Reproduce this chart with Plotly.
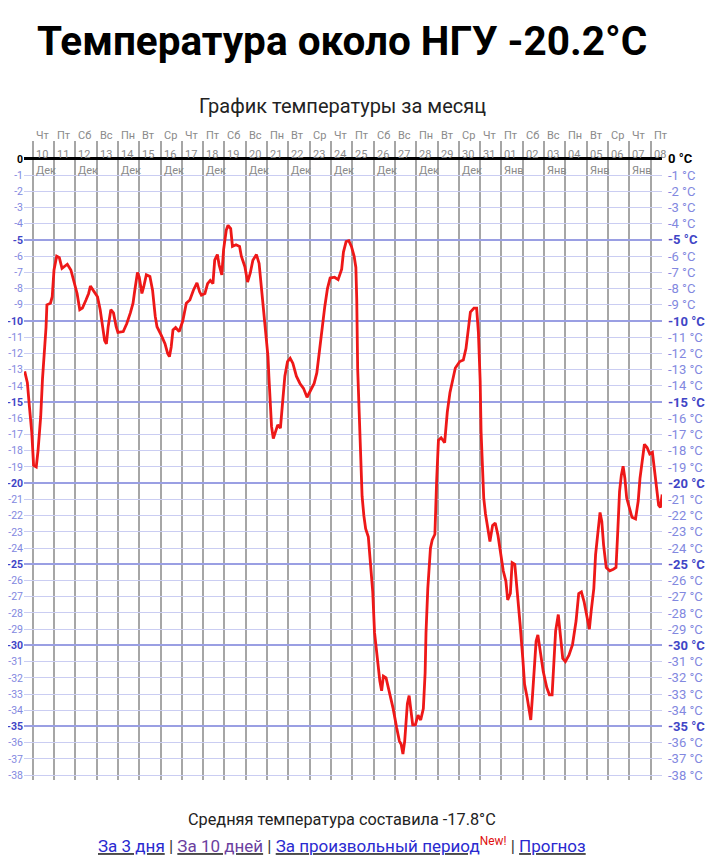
import pandas as pd
import plotly.graph_objects as go

title_text = "Температура около НГУ -20.2°C"
subtitle_text = "График температуры за месяц"
avg_text = "Средняя температура составила -17.8°C"

start_date = "2020-12-10"
day_names = ["Чт", "Пт", "Сб", "Вс", "Пн", "Вт", "Ср"] * 4 + ["Чт", "Пт"]
day_numbers = ["10", "11", "12", "13", "14", "15", "16", "17", "18", "19", "20",
               "21", "22", "23", "24", "25", "26", "27", "28", "29", "30", "31",
               "01", "02", "03", "04", "05", "06", "07", "08"]
month_labels = ["Дек", "", "Дек", "", "Дек", "", "Дек", "", "Дек", "", "Дек",
                "", "Дек", "", "Дек", "", "Дек", "", "Дек", "", "Дек", "",
                "Янв", "", "Янв", "", "Янв", "", "Янв", ""]

# hours since 10 Dec 00:00 and temperature (°C)
hours = [-9, -6, -4, -1, 1, 4, 6, 9, 11, 13, 15, 16, 20, 22, 24, 27, 30, 33, 36, 39,
         43, 46, 50, 53, 56, 60, 63, 65, 69, 73, 76, 79, 81, 83, 85, 88, 91, 94, 96, 102,
         106, 110, 113, 115, 118, 120, 123, 125, 128, 132, 135, 138, 140, 145, 149, 152, 154, 156, 158, 161,
         165, 169, 173, 177, 181, 185, 188, 190, 194, 197, 200, 203, 205, 208, 210, 213, 215, 218, 220, 223,
         225, 229, 233, 235, 239, 242, 245, 248, 252, 255, 258, 260, 263, 265, 266, 268, 269, 271, 274, 276,
         279, 281, 284, 287, 290, 293, 297, 301, 305, 309, 313, 317, 320, 323, 326, 329, 332, 335, 340, 344,
         348, 350, 353, 356, 359, 362, 364, 365, 366, 368, 370, 371, 373, 375, 378, 380, 383, 385, 388, 391,
         393, 395, 398, 402, 406, 410, 413, 415, 417, 419, 422, 424, 426, 428, 431, 434, 437, 440, 442, 443,
         445, 448, 450, 453, 455, 457, 460, 464, 467, 470, 473, 476, 481, 485, 488, 490, 493, 497, 500, 502,
         504, 505, 507, 508, 510, 513, 515, 518, 521, 524, 527, 530, 533, 535, 538, 540, 543, 546, 549, 552,
         554, 557, 559, 561, 563, 565, 567, 569, 572, 575, 579, 582, 585, 587, 589, 592, 594, 597, 600, 604,
         608, 612, 615, 618, 621, 624, 627, 629, 632, 634, 637, 639, 641, 643, 646, 650, 654, 657, 659, 661,
         663, 665, 667, 669, 672, 675, 679, 682, 684, 687, 689, 692, 695, 698, 700, 703, 705, 707, 709]
temps = [-13.1, -13.8, -15.1, -16.9, -18.9, -19.0, -18.0, -15.9, -13.6, -12.2, -10.4, -9.0, -8.9, -8.5, -6.85, -6.0, -6.1, -6.75, -6.65, -6.5,
         -6.85, -7.5, -8.3, -9.3, -9.2, -8.7, -8.3, -7.85, -8.2, -8.5, -9.3, -10.35, -11.2, -11.4, -10.35, -9.3, -9.5, -10.35, -10.7, -10.65,
         -10.15, -9.5, -8.9, -8.1, -7.0, -7.3, -8.3, -7.9, -7.15, -7.25, -8.1, -9.7, -10.35, -10.9, -11.4, -12.0, -12.2, -11.6, -10.55, -10.4,
         -10.65, -10.0, -8.9, -8.7, -8.1, -7.65, -8.2, -8.4, -8.3, -7.7, -7.5, -7.7, -6.25, -5.9, -6.55, -7.15, -5.6, -4.4, -4.1, -4.3,
         -5.4, -5.3, -5.4, -6.0, -6.65, -7.6, -7.05, -6.25, -5.9, -6.45, -8.1, -9.5, -11.0, -12.2, -13.4, -15.1, -16.5, -17.25, -16.7, -16.4,
         -16.6, -15.1, -13.4, -12.5, -12.3, -12.6, -13.4, -13.85, -14.15, -14.7, -14.25, -13.85, -13.2, -11.8, -10.15, -9.1, -8.0, -7.35, -7.3, -7.45,
         -6.8, -5.75, -5.1, -5.05, -5.4, -6.0, -6.7, -8.7, -12.9, -16.4, -18.8, -20.8, -22.0, -22.8, -23.3, -24.75, -26.7, -29.2, -30.9, -32.2,
         -32.8, -31.9, -32.0, -32.9, -33.9, -35.1, -35.9, -36.1, -36.7, -35.9, -33.6, -33.1, -34.1, -34.9, -34.9, -34.3, -34.6, -33.9, -31.7, -29.2,
         -26.5, -24.0, -23.5, -23.15, -19.8, -17.35, -17.2, -17.5, -15.6, -14.4, -13.65, -12.9, -12.5, -12.4, -11.7, -10.7, -9.45, -9.2, -9.2, -10.7,
         -13.7, -16.8, -19.2, -20.9, -21.9, -23.1, -23.6, -22.6, -22.45, -23.2, -24.4, -25.4, -26.05, -27.2, -26.8, -24.9, -25.0, -26.7, -28.7, -30.8,
         -32.4, -33.25, -33.9, -34.6, -33.05, -31.0, -29.75, -29.35, -30.4, -31.6, -32.6, -33.05, -33.05, -31.2, -29.1, -28.1, -29.35, -30.8, -31.0, -30.6,
         -29.95, -28.5, -26.8, -26.7, -27.3, -28.1, -29.0, -27.9, -26.5, -24.4, -22.55, -21.8, -22.35, -23.8, -25.2, -25.4, -25.3, -25.2, -22.95, -20.5,
         -19.5, -18.95, -19.7, -20.9, -21.5, -22.1, -22.2, -21.1, -19.7, -18.2, -17.6, -17.8, -18.2, -18.1, -19.15, -20.3, -21.35, -21.5, -20.7]

y_ticks = list(range(0, -39, -1))

base = pd.Timestamp(start_date)
times = base + pd.to_timedelta(hours, unit="h")
day_dates = [base + pd.Timedelta(days=i) for i in range(len(day_numbers))]

LIGHT = "#8288e0"
DARK = "#3f45c6"


def left_label(v):
    if v == 0:
        return "<b><span style='color:#000'>0</span></b>"
    if v % 5 == 0:
        return f"<b><span style='color:{DARK}'>{v}</span></b>"
    return f"<span style='color:{LIGHT}'>{v}</span>"


def right_label(v):
    if v == 0:
        return "<b><span style='color:#000'>0 °C</span></b>"
    if v % 5 == 0:
        return f"<b><span style='color:{DARK}'>{v} °C</span></b>"
    return f"<span style='color:{LIGHT}'>{v} °C</span>"


fig = go.Figure()
fig.add_trace(go.Scatter(x=times, y=temps, mode="lines",
                         line=dict(color="#ee1818", width=2.8),
                         showlegend=False, hoverinfo="x+y"))
fig.add_trace(go.Scatter(x=[times[0]], y=[None], yaxis="y2", showlegend=False, hoverinfo="skip"))
fig.add_trace(go.Scatter(x=[times[0]], y=[None], yaxis="y3", showlegend=False, hoverinfo="skip"))

yr = [-38.3, 1.1]
xr = [base - pd.Timedelta(hours=9.8), base + pd.Timedelta(hours=708.8)]

# the page body adds an 8px margin, so the figure is 8px smaller in each direction
fig.update_layout(
    width=712, height=857,
    margin=dict(l=16, r=58, t=133, b=85),
    paper_bgcolor="white", plot_bgcolor="white",
    font=dict(family="Roboto, sans-serif", size=14, color="#222"),
    xaxis=dict(range=xr, tickvals=day_dates, showticklabels=False,
               showgrid=True, gridcolor="#a6a6a6", gridwidth=1.6,
               zeroline=False, showline=False, ticks=""),
    yaxis=dict(range=yr, tickvals=y_ticks, ticktext=[left_label(v) for v in y_ticks],
               showgrid=True, gridcolor="#cacdf2", gridwidth=1,
               zeroline=True, zerolinecolor="#000", zerolinewidth=2.5,
               ticks="", ticklabelstandoff=0, automargin=False,
               tickfont=dict(size=10.5)),
    yaxis2=dict(range=yr, overlaying="y", side="right", tickvals=y_ticks,
                ticktext=[right_label(v) for v in y_ticks], showgrid=False,
                zeroline=False, ticks="", ticklabelstandoff=5, automargin=False,
                tickfont=dict(size=13)),
    yaxis3=dict(range=yr, overlaying="y", tickvals=[-5, -10, -15, -20, -25, -30, -35],
                showticklabels=False, showgrid=True, gridcolor="#9a9fe3",
                gridwidth=1.5, zeroline=False, ticks=""),
    showlegend=False,
)

for i, d in enumerate(day_dates):
    fig.add_annotation(x=d, y=1.0088, xref="x", yref="paper", text=day_names[i],
                       showarrow=False, xanchor="left", yanchor="middle", xshift=1,
                       font=dict(size=11, color="#8a8a8a"))
    fig.add_annotation(x=d, y=0.24, xref="x", yref="y", text=day_numbers[i],
                       showarrow=False, xanchor="left", yanchor="middle", xshift=1,
                       font=dict(size=11, color="#8a8a8a"))
    if month_labels[i]:
        fig.add_annotation(x=d, y=-0.69, xref="x", yref="y", text=month_labels[i],
                           showarrow=False, xanchor="left", yanchor="middle", xshift=1,
                           font=dict(size=11, color="#8a8a8a"))

cx = (342 - 24) / 638
fig.add_annotation(x=cx, y=1.1567, xref="paper", yref="paper", text=f"<b>{title_text}</b>",
                   showarrow=False, xanchor="center", yanchor="middle",
                   font=dict(size=40.5, color="#000", family="Roboto, sans-serif"))
fig.add_annotation(x=cx, y=1.0545, xref="paper", yref="paper", text=subtitle_text,
                   showarrow=False, xanchor="center", yanchor="middle",
                   font=dict(size=20, color="#222"))
fig.add_annotation(x=cx, y=-0.0625, xref="paper", yref="paper", text=avg_text,
                   showarrow=False, xanchor="center", yanchor="middle",
                   font=dict(size=16.3, color="#222"))
links = ("<u><span style='color:#2a2ad0'>За 3 дня</span></u> | "
         "<u><span style='color:#6b3fa0'>За 10 дней</span></u> | "
         "<u><span style='color:#2a2ad0'>За произвольный период</span></u>"
         "<sup><span style='color:#e01010'>New!</span></sup> | "
         "<u><span style='color:#2a2ad0'>Прогноз</span></u>")
fig.add_annotation(x=cx, y=-0.1015, xref="paper", yref="paper", text=links,
                   showarrow=False, xanchor="center", yanchor="middle",
                   font=dict(size=17, color="#333"))

fig.write_html("out.html")
